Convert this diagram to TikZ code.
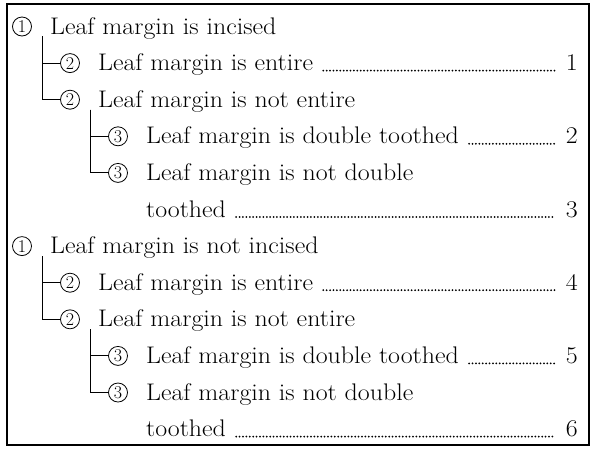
\documentclass[tikz,border=0pt]{standalone}
\usepackage{fontspec}
\usetikzlibrary{trees}
\newcommand\keyfont{\fontsize{24}{28}\selectfont}
\begin{document}
\begin{tikzpicture}[x=1pt,y=-1pt,
  nr/.style={circle,draw,line width=0.8pt,minimum size=19pt,inner sep=0pt,font=\fontsize{18}{18}\selectfont},
  every child node/.style=nr,
  lead/.style={anchor=base west,inner sep=0pt,font=\keyfont,xscale=1.08,transform shape},
  num/.style={anchor=base east,inner sep=0pt,font=\keyfont,xscale=1.08,transform shape},
  dots/.style={line width=2pt,line cap=round,dash pattern=on 0pt off 3.4pt,shorten <=10pt,shorten >=11pt},
  edge from parent/.style={draw,line width=1pt},
  edge from parent path={([xshift=20pt]\tikzparentnode.south) |- (\tikzchildnode.west)},
  grow via three points={one child at (48,36.6) and two children at (48,36.6) and (48,73.2)}]
\useasboundingbox (0,0) rectangle (596,448);
\draw[line width=1.5pt] (7,4) rectangle (589,445);
\coordinate (rim) at (578,0);
% incised
\node[nr] (a) at (22,26.5) {1}
    child {node (a1) {2}}
    child {node (a2) {2}
	child {node (a21) {3}}
	child {node (a22) {3}}};
\node[lead] (ta) at ([xshift=18pt,yshift=-7.5pt]a.east) {Leaf margin is incised};
\node[lead] (ta1) at ([xshift=18pt,yshift=-7.5pt]a1.east) {Leaf margin is entire};
\node[lead] (ta2) at ([xshift=18pt,yshift=-7.5pt]a2.east) {Leaf margin is not entire};
\node[lead] (ta21) at ([xshift=18pt,yshift=-7.5pt]a21.east) {Leaf margin is double toothed};
\node[lead] (ta22) at ([xshift=18pt,yshift=-7.5pt]a22.east) {Leaf margin is not double};
\node[lead] (ta22b) at ([yshift=-36.6pt]ta22.base west) {toothed};
% not incised
\node[nr] (b) at (22,246.1) {1}
    child {node (b1) {2}}
    child {node (b2) {2}
	child {node (b21) {3}}
	child {node (b22) {3}}};
\node[lead] (tb) at ([xshift=18pt,yshift=-7.5pt]b.east) {Leaf margin is not incised};
\node[lead] (tb1) at ([xshift=18pt,yshift=-7.5pt]b1.east) {Leaf margin is entire};
\node[lead] (tb2) at ([xshift=18pt,yshift=-7.5pt]b2.east) {Leaf margin is not entire};
\node[lead] (tb21) at ([xshift=18pt,yshift=-7.5pt]b21.east) {Leaf margin is double toothed};
\node[lead] (tb22) at ([xshift=18pt,yshift=-7.5pt]b22.east) {Leaf margin is not double};
\node[lead] (tb22b) at ([yshift=-36.6pt]tb22.base west) {toothed};
% numbers and leaders
\node[num] (n1) at (ta1.base -| rim) {1};
\node[num] (n2) at (ta21.base -| rim) {2};
\node[num] (n3) at (ta22b.base -| rim) {3};
\node[num] (n4) at (tb1.base -| rim) {4};
\node[num] (n5) at (tb21.base -| rim) {5};
\node[num] (n6) at (tb22b.base -| rim) {6};
\draw[dots] (ta1.base east) -- (n1.base west);
\draw[dots] (ta21.base east) -- (n2.base west);
\draw[dots] (ta22b.base east) -- (n3.base west);
\draw[dots] (tb1.base east) -- (n4.base west);
\draw[dots] (tb21.base east) -- (n5.base west);
\draw[dots] (tb22b.base east) -- (n6.base west);
\end{tikzpicture}
\end{document}
